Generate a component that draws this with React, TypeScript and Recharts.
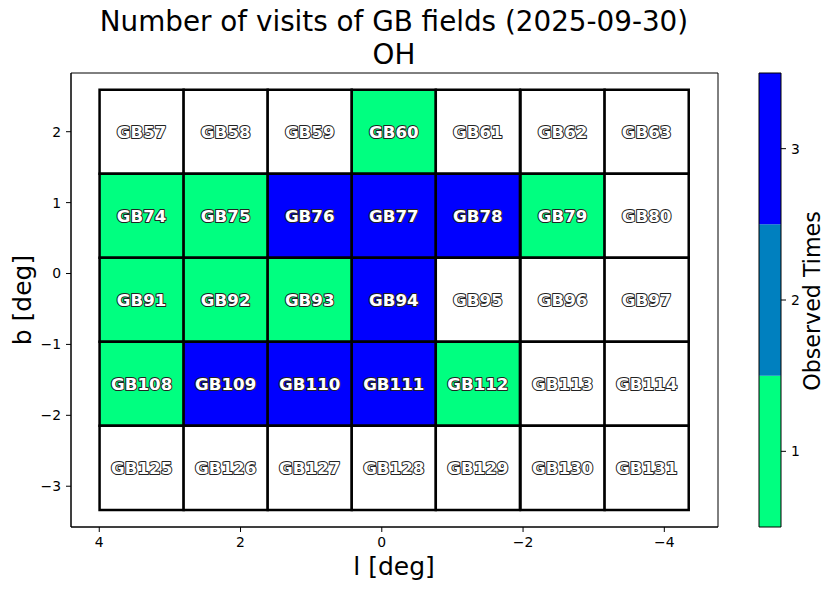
import React from "react";
import {
  ScatterChart,
  Scatter,
  XAxis,
  YAxis,
  ReferenceArea,
} from "recharts";

// ---- data ----
const lCenters = [3.4, 2.21, 1.02, -0.17, -1.36, -2.56, -3.75];
const bCenters = [2.0, 0.814, -0.371, -1.556, -2.741];
const fieldRows = [
  ["GB57", "GB58", "GB59", "GB60", "GB61", "GB62", "GB63"],
  ["GB74", "GB75", "GB76", "GB77", "GB78", "GB79", "GB80"],
  ["GB91", "GB92", "GB93", "GB94", "GB95", "GB96", "GB97"],
  ["GB108", "GB109", "GB110", "GB111", "GB112", "GB113", "GB114"],
  ["GB125", "GB126", "GB127", "GB128", "GB129", "GB130", "GB131"],
];
const visitRows = [
  [0, 0, 0, 1, 0, 0, 0],
  [1, 1, 3, 3, 3, 1, 0],
  [1, 1, 1, 3, 0, 0, 0],
  [1, 3, 3, 3, 1, 0, 0],
  [0, 0, 0, 0, 0, 0, 0],
];
const xTicks = [4, 2, 0, -2, -4];
const yTicks = [-3, -2, -1, 0, 1, 2];
const cbarLevels = [1, 2, 3];
const cbarColors = ["#00ff80", "#0080bf", "#0000ff"];

// ---- geometry / style constants ----
const CELL_W = 1.191;
const CELL_H = 1.185;
const X_DOMAIN: [number, number] = [-4.76, 4.4];
const Y_DOMAIN: [number, number] = [-3.575, 2.828];
const FONT = "DejaVu Sans";

const colorFor = (n: number) => (n <= 0 ? "#ffffff" : cbarColors[n - 1]);
const fmt = (v: number) => String(v).replace("-", "\u2212");

const cells = fieldRows.flatMap((row, r) =>
  row.map((name, c) => ({
    name,
    l: lCenters[c],
    b: bCenters[r],
    visits: visitRows[r][c],
  }))
);

const cbarData = cbarLevels.map((lev) => ({ x: 0.5, y: lev }));

const LabelShape = (props: any) => {
  const { cx, cy, payload } = props;
  return (
    <text
      x={cx}
      y={cy}
      dy="0.36em"
      textAnchor="middle"
      fontFamily={FONT}
      fontWeight="bold"
      fontSize={16.7}
      fill="#ffffff"
      stroke="#222"
      strokeWidth={2}
      strokeLinejoin="round"
      style={{ paintOrder: "stroke" }}
    >
      {payload.name}
    </text>
  );
};

const EmptyShape = () => <g />;

const tickStyle = { fontFamily: FONT, fontSize: 13.9, fill: "#000" };

export default function App() {
  return (
    <div style={{ position: "absolute", left: 0, top: 0, width: 835, height: 590, background: "#fff" }}>
      <div style={{ position: "absolute", left: 0, top: 0 }}>
        <ScatterChart
          width={835}
          height={590}
          margin={{ top: 73, right: 117, bottom: 33, left: 11 }}
        >
          <XAxis
            type="number"
            dataKey="l"
            domain={X_DOMAIN}
            reversed
            allowDataOverflow
            ticks={xTicks}
            tickFormatter={fmt}
            height={30}
            tickSize={5}
            tickMargin={5}
            tick={tickStyle}
            stroke="#000"
            tickLine={{ stroke: "#000" }}
            axisLine={{ stroke: "#000" }}
          />
          <YAxis
            type="number"
            dataKey="b"
            domain={Y_DOMAIN}
            allowDataOverflow
            ticks={yTicks}
            tickFormatter={fmt}
            width={60}
            tickSize={5}
            tickMargin={5}
            tick={tickStyle}
            stroke="#000"
            tickLine={{ stroke: "#000" }}
            axisLine={{ stroke: "#000" }}
          />
          <ReferenceArea
            x1={X_DOMAIN[0]}
            x2={X_DOMAIN[1]}
            y1={Y_DOMAIN[0]}
            y2={Y_DOMAIN[1]}
            fill="none"
            fillOpacity={0}
            stroke="#000"
            strokeWidth={1}
            ifOverflow="visible"
          />
          {cells.map((c) => (
            <ReferenceArea
              key={c.name}
              x1={c.l - CELL_W / 2}
              x2={c.l + CELL_W / 2}
              y1={c.b - CELL_H / 2}
              y2={c.b + CELL_H / 2}
              fill={colorFor(c.visits)}
              fillOpacity={1}
              stroke="#000"
              strokeWidth={2.5}
              ifOverflow="visible"
            />
          ))}
          <Scatter
            data={cells}
            isAnimationActive={false}
            shape={<LabelShape />}
          />
        </ScatterChart>
      </div>

      <div style={{ position: "absolute", left: 758, top: 0 }}>
        <ScatterChart
          width={77}
          height={590}
          margin={{ top: 73, right: 24, bottom: 63, left: 1 }}
        >
          <XAxis type="number" dataKey="x" domain={[0, 1]} hide />
          <YAxis
            orientation="right"
            type="number"
            dataKey="y"
            domain={[0.5, 3.5]}
            ticks={cbarLevels}
            width={30}
            tickSize={5}
            tickMargin={5}
            tick={tickStyle}
            axisLine={false}
            tickLine={{ stroke: "#000" }}
          />
          {cbarLevels.map((lev, i) => (
            <ReferenceArea
              key={lev}
              x1={0}
              x2={1}
              y1={lev - 0.5}
              y2={lev + 0.5}
              fill={cbarColors[i]}
              fillOpacity={1}
              stroke="none"
              ifOverflow="visible"
            />
          ))}
          <ReferenceArea
            x1={0}
            x2={1}
            y1={0.5}
            y2={3.5}
            fill="none"
            fillOpacity={0}
            stroke="#000"
            strokeWidth={1}
            ifOverflow="visible"
          />
          <Scatter data={cbarData} isAnimationActive={false} shape={<EmptyShape />} />
        </ScatterChart>
      </div>

      <svg
        width={835}
        height={590}
        style={{ position: "absolute", left: 0, top: 0, pointerEvents: "none" }}
      >
        <text x={394} y={31} textAnchor="middle" fontFamily={FONT} fontSize={27.8} fill="#000">
          Number of visits of GB fields (2025-09-30)
        </text>
        <text x={394} y={64} textAnchor="middle" fontFamily={FONT} fontSize={27.8} fill="#000">
          OH
        </text>
        <text x={394} y={575} textAnchor="middle" fontFamily={FONT} fontSize={25} fill="#000">
          l [deg]
        </text>
        <text
          x={31}
          y={300}
          textAnchor="middle"
          fontFamily={FONT}
          fontSize={25}
          fill="#000"
          transform="rotate(-90, 31, 300)"
        >
          b [deg]
        </text>
        <text
          x={820}
          y={301}
          textAnchor="middle"
          fontFamily={FONT}
          fontSize={22.2}
          fill="#000"
          transform="rotate(-90, 820, 301)"
        >
          Observed Times
        </text>
      </svg>
    </div>
  );
}
